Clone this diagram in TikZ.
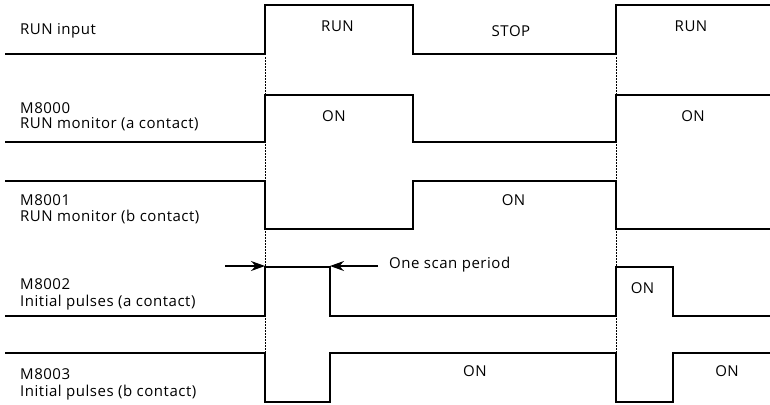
\documentclass[tikz,border=0pt]{standalone}
\usepackage{fontspec}
\setmainfont[LetterSpace=3.5]{Open Sans}
\usetikzlibrary{arrows.meta}
\begin{document}
\begin{tikzpicture}[x=1pt,y=-1pt,
  sig/.style={line width=2pt,line join=miter},
  guide/.style={line width=0.8pt,dash pattern=on 1.5pt off 1.5pt},
  lbl/.style={font=\fontsize{15}{16}\selectfont,inner sep=0pt,anchor=base west},
  txt/.style={font=\fontsize{15}{16}\selectfont,inner sep=0pt,anchor=base},
  dim/.style={line width=1.3pt,-{Stealth[length=14pt,width=10pt]}}]
\useasboundingbox (0,0) rectangle (770,404);
\draw[guide] (265,54) -- (265,353);
\draw[guide] (616,54) -- (616,353);
% signals
\draw[sig] (5,54)--(265,54)--(265,5)--(413,5)--(413,54)--(616,54)--(616,5)--(770,5);
\draw[sig] (5,142)--(265,142)--(265,95)--(413,95)--(413,142)--(616,142)--(616,95)--(770,95);
\draw[sig] (5,181)--(265,181)--(265,229)--(413,229)--(413,181)--(616,181)--(616,229)--(770,229);
\draw[sig] (5,316)--(265,316)--(265,267)--(330,267)--(330,316)--(616,316)--(616,267)--(673,267)--(673,316)--(770,316);
\draw[sig] (5,353)--(265,353)--(265,402)--(330,402)--(330,353)--(616,353)--(616,402)--(673,402)--(673,353)--(770,353);
% labels
\node[lbl] (l1) at (20,34.5) {RUN input};
\node[lbl] (l2a) at (20,113) {M8000};
\node[lbl] (l2b) at (20,128.5) {RUN monitor (a contact)};
\node[lbl] (l3a) at (20,205) {M8001};
\node[lbl] (l3b) at (20,221) {RUN monitor (b contact)};
\node[lbl] (l4a) at (20,289.5) {M8002};
\node[lbl] (l4b) at (20,306) {Initial pulses (a contact)};
\node[lbl] (l5a) at (20,379.5) {M8003};
\node[lbl] (l5b) at (20,396) {Initial pulses (b contact)};
% state texts
\node[txt] (t1) at (337.5,32) {RUN};
\node[txt] (t2) at (511,36.5) {STOP};
\node[txt] (t3) at (691,32) {RUN};
\node[txt] (t4) at (334,121.5) {ON};
\node[txt] (t5) at (693,121.5) {ON};
\node[txt] (t6) at (513.5,205) {ON};
\node[txt] (t7) at (642.5,293) {ON};
\node[txt] (t8) at (475,376.5) {ON};
\node[txt] (t9) at (727,376.5) {ON};
% one scan period
\coordinate (a1) at (225,266);
\coordinate (a2) at (265,266);
\coordinate (b1) at (378,266);
\coordinate (b2) at (330,266);
\node[lbl] (osp) at (389,268) {One scan period};
\draw[dim] (a1) -- (a2);
\draw[dim] (b1) -- (b2);
\end{tikzpicture}
\end{document}
